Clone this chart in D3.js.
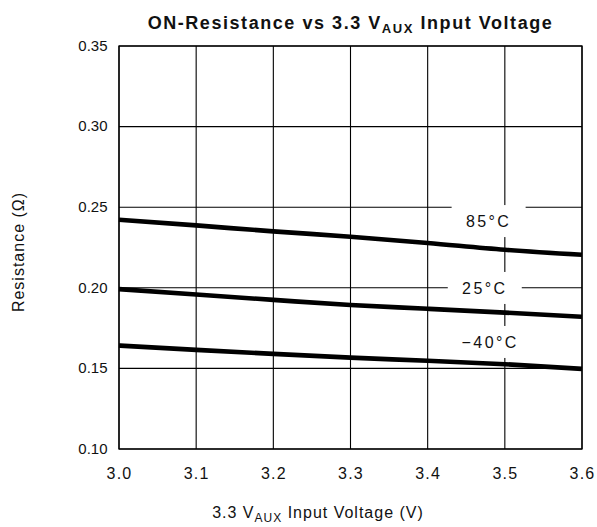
<html>

<head>
  <title>ON-Resistance vs 3.3 VAUX Input Voltage</title>
  <script src="https://d3js.org/d3.v7.min.js"></script>
  <style>
    body {
      margin: 0;
      background: #fff;
    }

    svg text {
      font-family: "Liberation Sans", Arial, Helvetica, sans-serif;
      fill: #111;
    }
  </style>
</head>

<body>
  <div id="chart"></div>

  <script>
    // data
    var voltages = [3.0, 3.1, 3.2, 3.3, 3.4, 3.5, 3.6];
    var r85 = [0.2422, 0.2387, 0.2350, 0.2317, 0.2278, 0.2236, 0.2205];
    var r25 = [0.1992, 0.1958, 0.1925, 0.1893, 0.1870, 0.1846, 0.1820];
    var rMinus40 = [0.1642, 0.1615, 0.1590, 0.1567, 0.1547, 0.1526, 0.1497];

    var xTicks = [3.0, 3.1, 3.2, 3.3, 3.4, 3.5, 3.6];
    var yTicks = [0.10, 0.15, 0.20, 0.25, 0.30, 0.35];

    // curve labels: text, where they sit (x in volts, y in ohms)
    var labelText = ["85\u00B0C", "25\u00B0C", "\u221240\u00B0C"];
    var labelX = [3.479, 3.474, 3.481];
    var labelY = [0.2414, 0.1999, 0.1664];

    var series = [r85, r25, rMinus40];

    var W = 597, H = 527;
    var margin = { top: 46, right: 15, bottom: 78, left: 119 },
      width = W - margin.left - margin.right,
      height = H - margin.top - margin.bottom;

    var x = d3.scaleLinear().domain([3.0, 3.6]).range([0, width]);
    var y = d3.scaleLinear().domain([0.10, 0.35]).range([height, 0]);

    var svg = d3.select("#chart").append("svg")
      .attr("width", W)
      .attr("height", H);

    var g = svg.append("g")
      .attr("transform", "translate(" + margin.left + "," + margin.top + ")");

    // grid
    g.append("g").selectAll("line")
      .data(xTicks)
      .enter().append("line")
      .attr("x1", function (d) { return x(d); })
      .attr("x2", function (d) { return x(d); })
      .attr("y1", 0)
      .attr("y2", height)
      .attr("stroke", "#000")
      .attr("stroke-width", 1.1);

    g.append("g").selectAll("line")
      .data(yTicks)
      .enter().append("line")
      .attr("x1", 0)
      .attr("x2", width)
      .attr("y1", function (d) { return y(d); })
      .attr("y2", function (d) { return y(d); })
      .attr("stroke", "#000")
      .attr("stroke-width", 1.1);

    // frame
    g.append("rect")
      .attr("width", width)
      .attr("height", height)
      .attr("fill", "none")
      .attr("stroke", "#000")
      .attr("stroke-width", 1.3);

    // axes (labels only)
    var xAxis = g.append("g")
      .attr("transform", "translate(0," + height + ")")
      .call(d3.axisBottom(x).tickValues(xTicks).tickSize(0).tickPadding(19)
        .tickFormat(d3.format(".1f")));
    xAxis.select(".domain").remove();
    xAxis.selectAll("text")
      .style("font-size", "16px")
      .style("letter-spacing", "1.2px")
      .attr("fill", "#111");

    var yAxis = g.append("g")
      .call(d3.axisLeft(y).tickValues(yTicks).tickSize(0).tickPadding(11.5)
        .tickFormat(d3.format(".2f")));
    yAxis.select(".domain").remove();
    yAxis.selectAll("text")
      .style("font-size", "15px")
      .attr("dy", "0.28em")
      .attr("fill", "#111");

    // label boxes hide the grid behind the text
    var labels = g.append("g").selectAll("g")
      .data(labelText)
      .enter().append("g")
      .attr("transform", function (d, i) {
        return "translate(" + x(labelX[i]) + "," + y(labelY[i]) + ")";
      });

    labels.append("rect")
      .attr("x", -37)
      .attr("y", -16)
      .attr("width", 74)
      .attr("height", 32)
      .attr("fill", "#fff");

    labels.append("text")
      .attr("text-anchor", "middle")
      .attr("dy", "0.36em")
      .style("font-size", "16px")
      .style("letter-spacing", "2.4px")
      .text(function (d) { return d; });

    // curves
    var line = d3.line()
      .x(function (d, i) { return x(voltages[i]); })
      .y(function (d) { return y(d); })
      .curve(d3.curveMonotoneX);

    g.append("g").selectAll("path")
      .data(series)
      .enter().append("path")
      .attr("d", line)
      .attr("fill", "none")
      .attr("stroke", "#000")
      .attr("stroke-width", 4.6);

    // title
    var title = svg.append("text")
      .attr("x", margin.left + width / 2)
      .attr("y", 29)
      .attr("text-anchor", "middle")
      .style("font-size", "18px")
      .style("font-weight", "bold")
      .style("letter-spacing", "1.55px");
    title.append("tspan").text("ON-Resistance vs 3.3 V");
    title.append("tspan").attr("dy", 4).style("font-size", "13px").text("AUX");
    title.append("tspan").attr("dy", -4).text(" Input Voltage");

    // x axis title
    var xt = svg.append("text")
      .attr("x", 318)
      .attr("y", 518)
      .attr("text-anchor", "middle")
      .style("font-size", "16px")
      .style("letter-spacing", "1px");
    xt.append("tspan").text("3.3 V");
    xt.append("tspan").attr("dy", 4).style("font-size", "12px").text("AUX");
    xt.append("tspan").attr("dy", -4).text(" Input Voltage (V)");

    // y axis title
    svg.append("text")
      .attr("transform", "translate(24,252) rotate(-90)")
      .attr("text-anchor", "middle")
      .style("font-size", "16px")
      .style("letter-spacing", "1px")
      .text("Resistance (\u03A9)");
  </script>
</body>

</html>
